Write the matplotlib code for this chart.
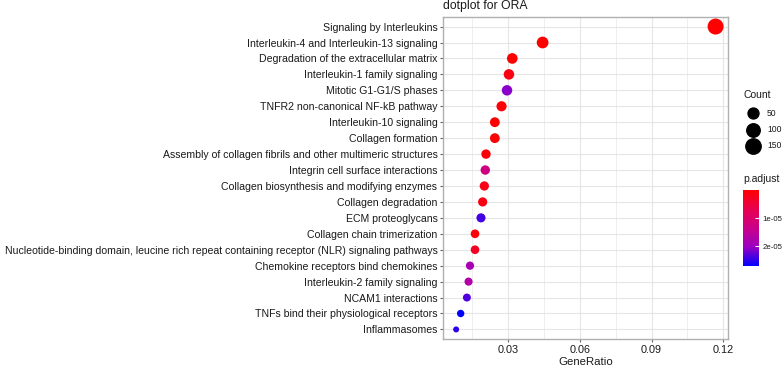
import matplotlib
matplotlib.use("Agg")
import matplotlib.pyplot as plt
import numpy as np
from matplotlib.colors import LinearSegmentedColormap, Normalize
from matplotlib.lines import Line2D

plt.rcParams["font.family"] = ["Liberation Sans", "DejaVu Sans"]

# datos (de arriba hacia abajo)
terminos = [
    "Signaling by Interleukins",
    "Interleukin-4 and Interleukin-13 signaling",
    "Degradation of the extracellular matrix",
    "Interleukin-1 family signaling",
    "Mitotic G1-G1/S phases",
    "TNFR2 non-canonical NF-kB pathway",
    "Interleukin-10 signaling",
    "Collagen formation",
    "Assembly of collagen fibrils and other multimeric structures",
    "Integrin cell surface interactions",
    "Collagen biosynthesis and modifying enzymes",
    "Collagen degradation",
    "ECM proteoglycans",
    "Collagen chain trimerization",
    "Nucleotide-binding domain, leucine rich repeat containing receptor (NLR) signaling pathways",
    "Chemokine receptors bind chemokines",
    "Interleukin-2 family signaling",
    "NCAM1 interactions",
    "TNFs bind their physiological receptors",
    "Inflammasomes",
]
gene_ratio = [0.1168, 0.0444, 0.0317, 0.0303, 0.0295, 0.0272, 0.0244, 0.0244, 0.0207, 0.0204,
              0.0200, 0.0193, 0.0186, 0.0161, 0.0161, 0.0140, 0.0134, 0.0127, 0.0101, 0.0082]
conteo = [169, 64, 46, 44, 43, 39, 35, 35, 30, 30, 29, 28, 27, 23, 23, 20, 19, 18, 15, 12]
p_ajustado = [1e-20, 1e-10, 2e-08, 1.5e-06, 2.1e-05, 5e-07, 3e-07, 5e-07, 8e-07, 1.27e-05,
              2e-06, 1.5e-06, 2.4e-05, 5e-07, 3e-06, 1.85e-05, 1.7e-05, 2.35e-05, 2.7e-05, 2.5e-05]
leyenda_conteo = [50, 100, 150]
ticks_p = [1e-05, 2e-05]
ticks_x = [0.03, 0.06, 0.09, 0.12]

# gradiente rojo -> azul aproximado en espacio Lab (como ggplot)
cmap = LinearSegmentedColormap.from_list(
    "rojo_azul",
    [(0.0, "#FF0000"), (0.25, "#E80050"), (0.5, "#CA0089"), (0.75, "#9B00C2"), (1.0, "#0000FF")],
)
norma = Normalize(vmin=min(p_ajustado), vmax=max(p_ajustado))

cmin, cmax = min(conteo), max(conteo)


def diametro_px(c):
    return 6 + 10 * np.sqrt((c - cmin) / (cmax - cmin))


def tam_scatter(c):
    return (diametro_px(c) * 72 / 100) ** 2


fig = plt.figure(figsize=(7.84, 3.66), dpi=100)
ax = fig.add_axes([443 / 784, 27 / 366, 285 / 784, 322 / 366])

n = len(terminos)
y = np.arange(n)[::-1] + 1
ax.scatter(
    gene_ratio, y,
    s=[tam_scatter(c) for c in conteo],
    c=[cmap(norma(p)) for p in p_ajustado],
    edgecolors="none", zorder=3,
)

ax.set_xlim(0.0027, 0.122)
ax.set_ylim(0.4, n + 0.6)
ax.set_xticks(ticks_x)
ax.set_xticklabels([f"{t:.2f}" for t in ticks_x])
ax.set_xticks([0.015, 0.045, 0.075, 0.105], minor=True)
ax.set_yticks(y)
ax.set_yticklabels(terminos)
ax.grid(which="major", color="#e6e6e6", linewidth=0.8, zorder=0)
ax.grid(which="minor", axis="x", color="#ededed", linewidth=0.6, zorder=0)
ax.set_axisbelow(True)
for sp in ax.spines.values():
    sp.set_color("#b0b0b0")
    sp.set_linewidth(1.0)
ax.tick_params(axis="y", which="major", length=2.5, color="#666666",
               labelsize=7.6, labelcolor="#1a1a1a", pad=1.5)
ax.tick_params(axis="x", which="major", length=2.5, color="#666666",
               labelsize=7.8, labelcolor="#1a1a1a", pad=1.5)
ax.tick_params(axis="x", which="minor", length=0)

fig.text((443 + 728) / 2 / 784, 1 - 365 / 366, "GeneRatio", fontsize=8.2,
         ha="center", va="baseline", color="#1a1a1a")
fig.text(443 / 784, 1 - 6.5 / 366, "dotplot for ORA", fontsize=8.8,
         ha="left", va="center", color="#1a1a1a")

# leyenda de tamanio (Count)
fig.text(743 / 784, 1 - 95 / 366, "Count", fontsize=7.5, ha="left", va="center", color="#1a1a1a")
for i, c in enumerate(leyenda_conteo):
    yy = 1 - (113 + i * 16.5) / 366
    fig.add_artist(Line2D([753 / 784], [yy], marker="o", markersize=diametro_px(c) * 0.72,
                          color="black", linestyle="none"))
    fig.text(767 / 784, yy, str(c), fontsize=6.2, ha="left", va="center", color="#1a1a1a")

# barra de color (p.adjust)
fig.text(743 / 784, 1 - 179 / 366, "p.adjust", fontsize=7.5, ha="left", va="center", color="#1a1a1a")
cax = fig.add_axes([743 / 784, 1 - 266 / 366, 16 / 784, 76 / 366])
grad = np.linspace(norma.vmin, norma.vmax, 256).reshape(-1, 1)
cax.imshow(grad, aspect="auto", cmap=cmap, norm=norma,
           extent=[0, 1, norma.vmax, norma.vmin])
cax.set_xlim(0, 1)
cax.set_ylim(norma.vmax, norma.vmin)
cax.set_xticks([])
cax.yaxis.tick_right()
cax.set_yticks(ticks_p)
cax.set_yticklabels(["1e-05", "2e-05"])
cax.tick_params(axis="y", direction="in", length=3, color="white", labelsize=5.6,
                labelcolor="#1a1a1a", pad=2.5)
for sp in cax.spines.values():
    sp.set_visible(False)

fig.savefig("out.png", dpi=100)
plt.close(fig)
